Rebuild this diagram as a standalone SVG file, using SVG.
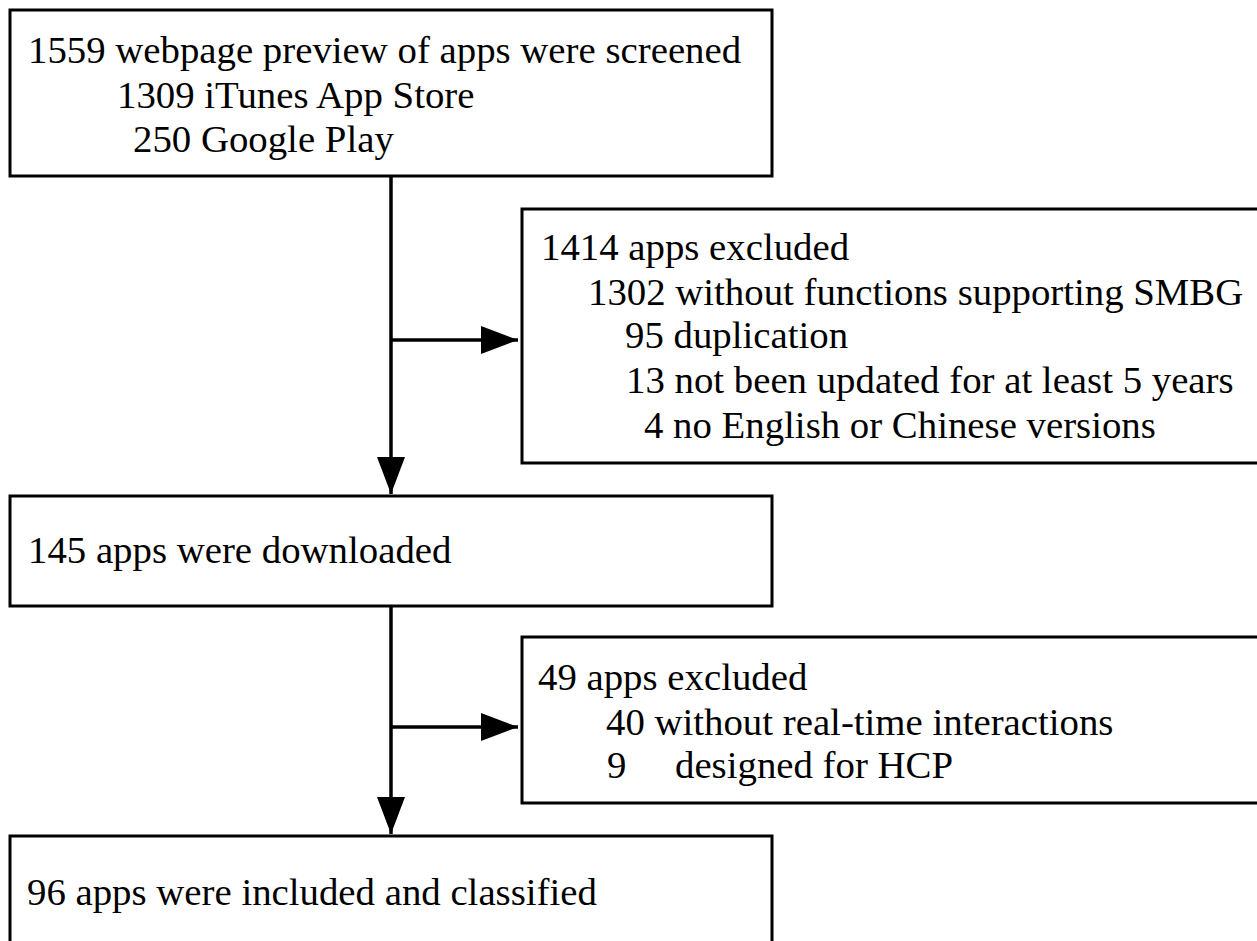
<svg xmlns="http://www.w3.org/2000/svg" width="1257" height="941" viewBox="0 0 1257 941">
<style>
.box{fill:#fff;stroke:#000;stroke-width:3}
text{font-family:'Liberation Serif','Times New Roman',Times,serif;font-size:38.8px;fill:#000}
.c{stroke:#000;stroke-width:3.5;fill:none}
</style>
<defs>
<marker id="ah" markerUnits="userSpaceOnUse" markerWidth="38" markerHeight="30" refX="37" refY="14" orient="auto" viewBox="0 0 38 28">
<path d="M0,0 L37,14 L0,28 z" fill="#000"/>
</marker>
</defs>
<rect width="1257" height="941" fill="#fff"/>
<g id="connectors">
<line class="c" x1="391" y1="176" x2="391" y2="494" marker-end="url(#ah)"/>
<line class="c" x1="391" y1="340" x2="518" y2="340" marker-end="url(#ah)"/>
<line class="c" x1="391" y1="606" x2="391" y2="834" marker-end="url(#ah)"/>
<line class="c" x1="391" y1="727" x2="518" y2="727" marker-end="url(#ah)"/>
</g>
<g id="n1">
<rect class="box" x="10" y="10" width="762" height="166"/>
<text x="28" y="63">1559 webpage preview of apps were screened</text>
<text x="117" y="108">1309 iTunes App Store</text>
<text x="133" y="152">250 Google Play</text>
</g>
<g id="n2">
<rect class="box" x="522" y="209" width="745" height="254"/>
<text x="541" y="260">1414 apps excluded</text>
<text x="588" y="305">1302 without functions supporting SMBG</text>
<text x="625" y="348">95 duplication</text>
<text x="626" y="393">13 not been updated for at least 5 years</text>
<text x="644" y="438">4 no English or Chinese versions</text>
</g>
<g id="n3">
<rect class="box" x="10" y="496" width="762" height="110"/>
<text x="28" y="563">145 apps were downloaded</text>
</g>
<g id="n4">
<rect class="box" x="522" y="637" width="745" height="166"/>
<text x="538" y="690">49 apps excluded</text>
<text x="606" y="735">40 without real-time interactions</text>
<text x="607" y="778">9</text>
<text x="675" y="778">designed for HCP</text>
</g>
<g id="n5">
<rect class="box" x="10" y="836" width="762" height="130"/>
<text x="27" y="905">96 apps were included and classified</text>
</g>
</svg>
